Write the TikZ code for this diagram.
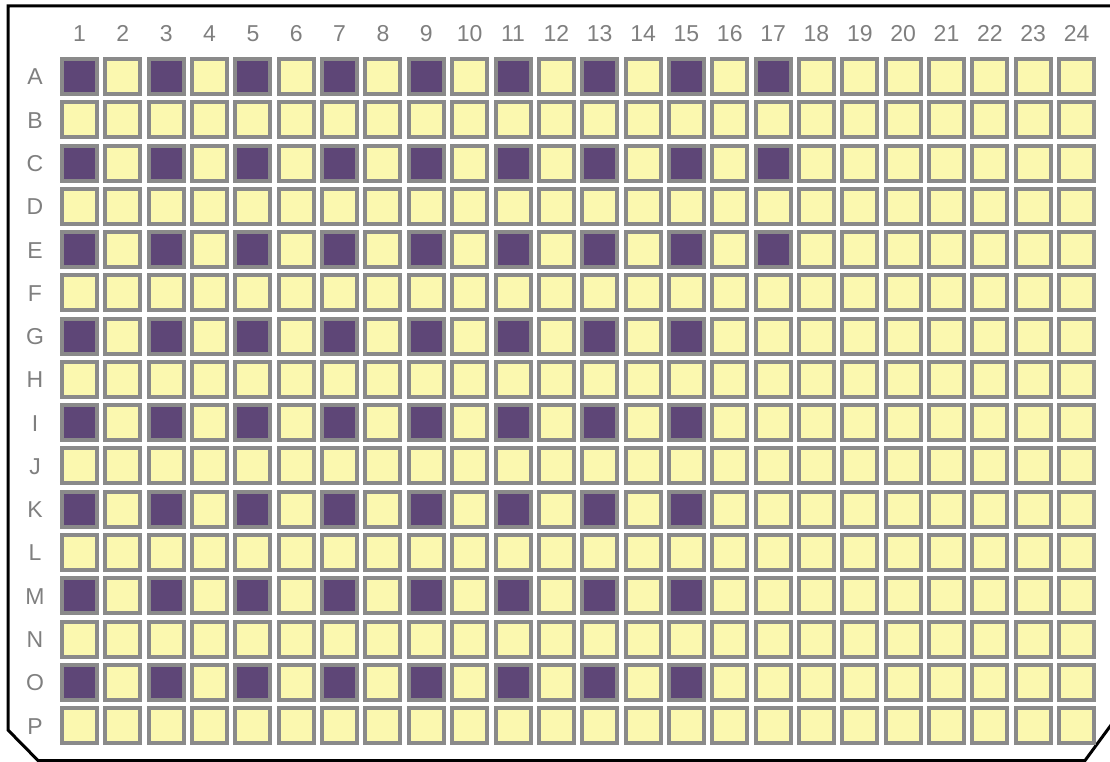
\documentclass[tikz,border=0pt]{standalone}
\usepackage{fontspec}
\setmainfont{Liberation Sans}
\definecolor{wellfill}{HTML}{FBF8AF}
\definecolor{wellpurple}{HTML}{5E4677}
\definecolor{wellrim}{HTML}{8A8A8A}
\definecolor{labelgray}{HTML}{7F7F7F}
\tikzset{
  well/.style={draw=wellrim, line width=4pt, minimum width=35pt, minimum height=35pt, inner sep=0pt, fill=wellfill},
  hit/.style={fill=wellpurple},
  lbl/.style={text=labelgray, font=\fontsize{23}{25}\selectfont, inner sep=0pt, anchor=base},
  plate/.style={draw=black, line width=3pt, line join=miter}
}
\begin{document}
\begin{tikzpicture}[x=1pt,y=-1pt]
\useasboundingbox (0,0) rectangle (1110,762);
\draw[plate] (1125,6) -- (8,6) -- (8,730) -- (38,760.5) -- (1085,760.5) -- (1125,706);
\foreach \c in {1,...,24}{
  \node[lbl] (col\c) at ({79.5+(\c-1)*43.35},41.5) {\c};
}
\foreach \r/\L in {1/A,2/B,3/C,4/D,5/E,6/F,7/G,8/H,9/I,10/J,11/K,12/L,13/M,14/N,15/O,16/P}{
  \node[lbl] (row\L) at (35,{85+(\r-1)*43.27}) {\L};
  \foreach \c in {1,...,24}{
    \pgfmathtruncatemacro{\rodd}{mod(\r,2)}
    \pgfmathtruncatemacro{\codd}{mod(\c,2)}
    \pgfmathtruncatemacro{\lim}{\r<6 ? 17 : 15}
    \pgfmathtruncatemacro{\ishit}{(\rodd==1 && \codd==1 && \c<=\lim) ? 1 : 0}
    \ifnum\ishit=1
      \node[well,hit] (w\L\c) at ({79.5+(\c-1)*43.35},{76.5+(\r-1)*43.27}) {};
    \else
      \node[well] (w\L\c) at ({79.5+(\c-1)*43.35},{76.5+(\r-1)*43.27}) {};
    \fi
  }
}
\end{tikzpicture}
\end{document}
